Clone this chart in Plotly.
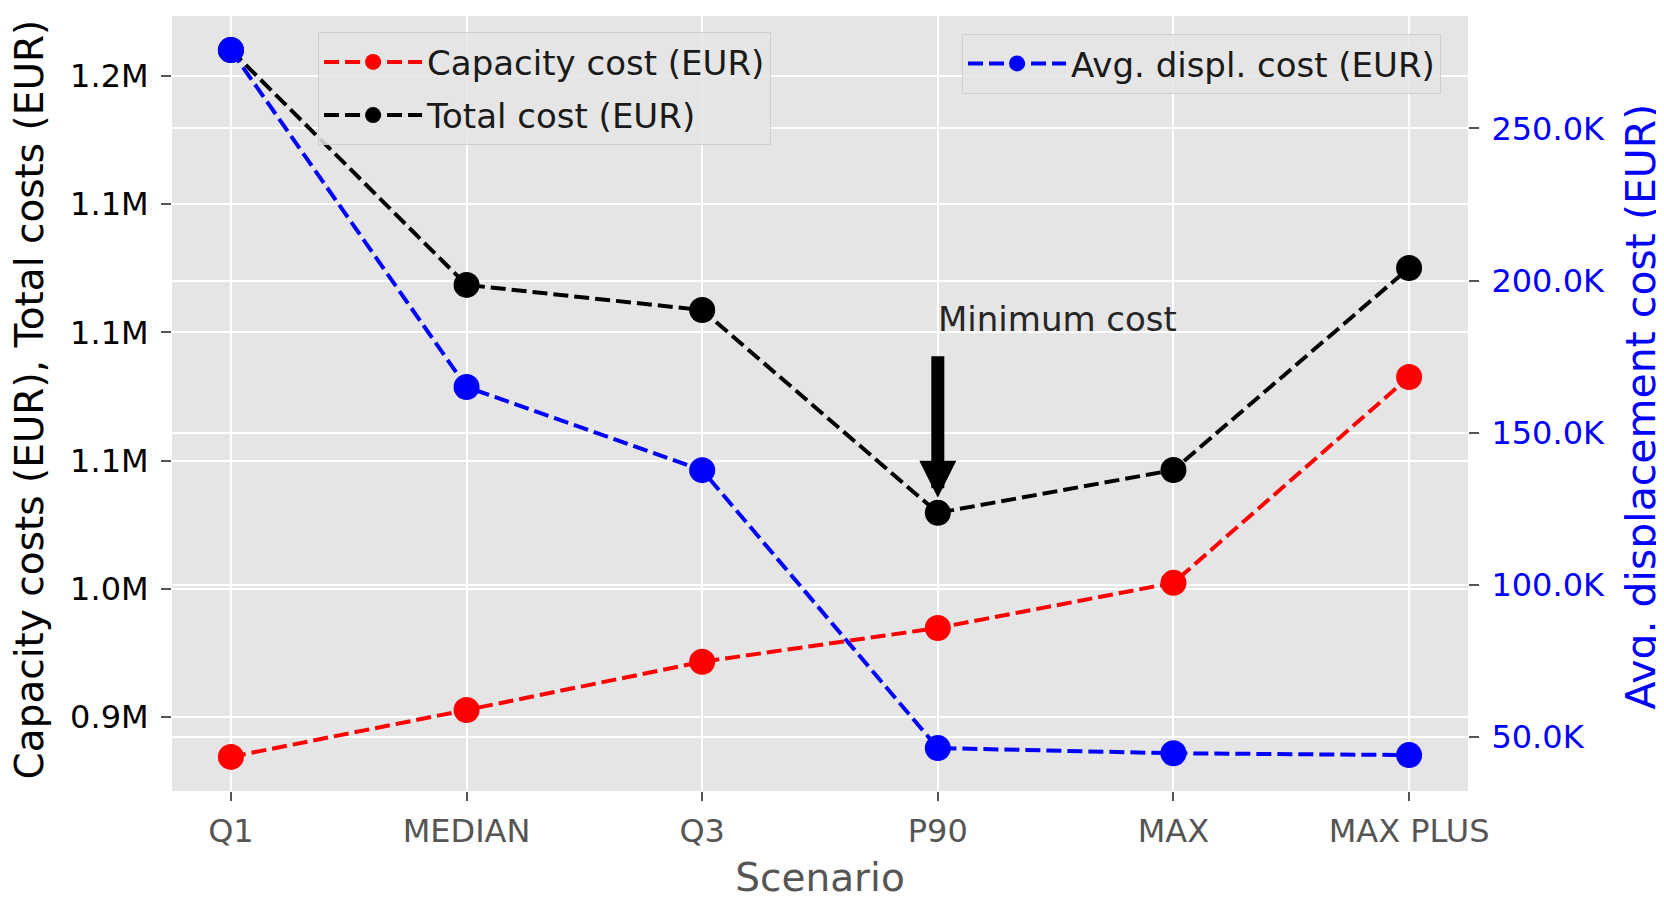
import plotly.graph_objects as go

# ---------------- data ----------------
scenarios = ["Q1", "MEDIAN", "Q3", "P90", "MAX", "MAX PLUS"]
capacity_cost = [934400, 952700, 971500, 984700, 1002300, 1082600]
total_cost = [1210100, 1118500, 1108700, 1029600, 1046300, 1125100]
avg_displacement_cost = [275700, 165000, 137700, 46400, 44700, 44100]

left_tick_vals = [950000, 1000000, 1050000, 1100000, 1150000, 1200000]
left_tick_text = ["0.9M", "1.0M", "1.1M", "1.1M", "1.1M", "1.2M"]
right_tick_vals = [50000, 100000, 150000, 200000, 250000]
right_tick_text = ["50.0K", "100.0K", "150.0K", "200.0K", "250.0K"]

left_title = "Capacity costs (EUR), Total costs (EUR)"
right_title = "Avg. displacement cost (EUR)"
x_title = "Scenario"
annotation_text = "Minimum cost"
annotation_text_y = 1100000

FONT = "DejaVu Sans"
DASH = "15px,6px"

fig = go.Figure()

fig.add_trace(go.Scatter(
    x=scenarios, y=capacity_cost, name="Capacity cost (EUR)",
    mode="lines+markers",
    line=dict(color="#FF0000", width=4, dash=DASH),
    marker=dict(color="#FF0000", size=26),
    legend="legend", legendgroup="cap",
))
fig.add_trace(go.Scatter(
    x=scenarios, y=total_cost, name="Total cost (EUR)",
    mode="lines+markers",
    line=dict(color="#000000", width=4, dash=DASH),
    marker=dict(color="#000000", size=26),
    legend="legend", legendgroup="tot",
))
fig.add_trace(go.Scatter(
    x=scenarios, y=avg_displacement_cost, name="Avg. displ. cost (EUR)",
    mode="lines+markers",
    line=dict(color="#0000FF", width=4, dash=DASH),
    marker=dict(color="#0000FF", size=26),
    yaxis="y2",
    legend="legend2", legendgroup="disp",
))

# minimum-cost annotation
min_idx = total_cost.index(min(total_cost))
fig.add_annotation(
    x=scenarios[min_idx], y=annotation_text_y, xref="x", yref="y",
    text=annotation_text, showarrow=False,
    xanchor="left", yanchor="bottom", yshift=-9, xshift=-2,
    font=dict(family=FONT, size=34, color="#262626"),
)
fig.add_annotation(
    x=scenarios[min_idx], y=total_cost[min_idx], xref="x", yref="y",
    ax=0, ay=-158, axref="pixel", ayref="pixel",
    text="", showarrow=True,
    arrowhead=2, arrowwidth=13, arrowsize=0.57, arrowcolor="#000000",
    standoff=15,
)

# axis titles as rotated annotations for exact placement
fig.add_annotation(
    x=0, y=0.5, xref="paper", yref="paper", xanchor="center", yanchor="middle",
    xshift=-143, yshift=4, textangle=-90, showarrow=False, borderpad=0,
    text=left_title, font=dict(family=FONT, size=39, color="#000000"),
)
fig.add_annotation(
    x=1, y=0.5, xref="paper", yref="paper", xanchor="center", yanchor="middle",
    xshift=172, yshift=-3, textangle=-90, showarrow=False, borderpad=0,
    text=right_title, font=dict(family=FONT, size=41, color="#0000FF"),
)

legend_common = dict(
    xanchor="left", yanchor="top",
    bgcolor="rgba(229,229,229,0.85)", bordercolor="rgba(204,204,204,0.9)",
    borderwidth=1, font=dict(family=FONT, size=34, color="#1a1a1a"),
    itemwidth=98, tracegroupgap=6,
)

fig.update_layout(
    width=1656, height=892,
    margin=dict(l=164, r=196, t=8, b=109),
    paper_bgcolor="#FFFFFF",
    plot_bgcolor="#E5E5E5",
    font=dict(family=FONT, size=32, color="#000000"),
    showlegend=True,
    legend=dict(x=0.1127, y=0.979, **legend_common),
    legend2=dict(x=0.6096, y=0.977, **legend_common),
    xaxis=dict(
        type="category", range=[-0.25, 5.25], automargin=False,
        showgrid=True, gridcolor="#FFFFFF", gridwidth=2,
        ticks="outside", ticklen=9, tickwidth=1.5, tickcolor="#555555",
        ticklabelstandoff=3,
        tickfont=dict(family=FONT, size=32, color="#555555"),
        title=dict(text=x_title, font=dict(family=FONT, size=39, color="#555555"), standoff=17),
        showline=False, zeroline=False,
    ),
    yaxis=dict(
        range=[921100, 1223400], automargin=False,
        tickvals=left_tick_vals, ticktext=left_tick_text,
        showgrid=True, gridcolor="#FFFFFF", gridwidth=2,
        ticks="outside", ticklen=10, tickwidth=1.5, tickcolor="#555555",
        ticklabelstandoff=6,
        tickfont=dict(family=FONT, size=32, color="#000000"),
        showline=False, zeroline=False,
    ),
    yaxis2=dict(
        overlaying="y", side="right", automargin=False,
        range=[32300, 286900],
        tickvals=right_tick_vals, ticktext=right_tick_text,
        showgrid=True, gridcolor="#FFFFFF", gridwidth=2,
        ticks="outside", ticklen=10, tickwidth=1.5, tickcolor="#555555",
        ticklabelstandoff=6,
        tickfont=dict(family=FONT, size=32, color="#0000FF"),
        showline=False, zeroline=False,
    ),
)

fig.write_html("out.html")
